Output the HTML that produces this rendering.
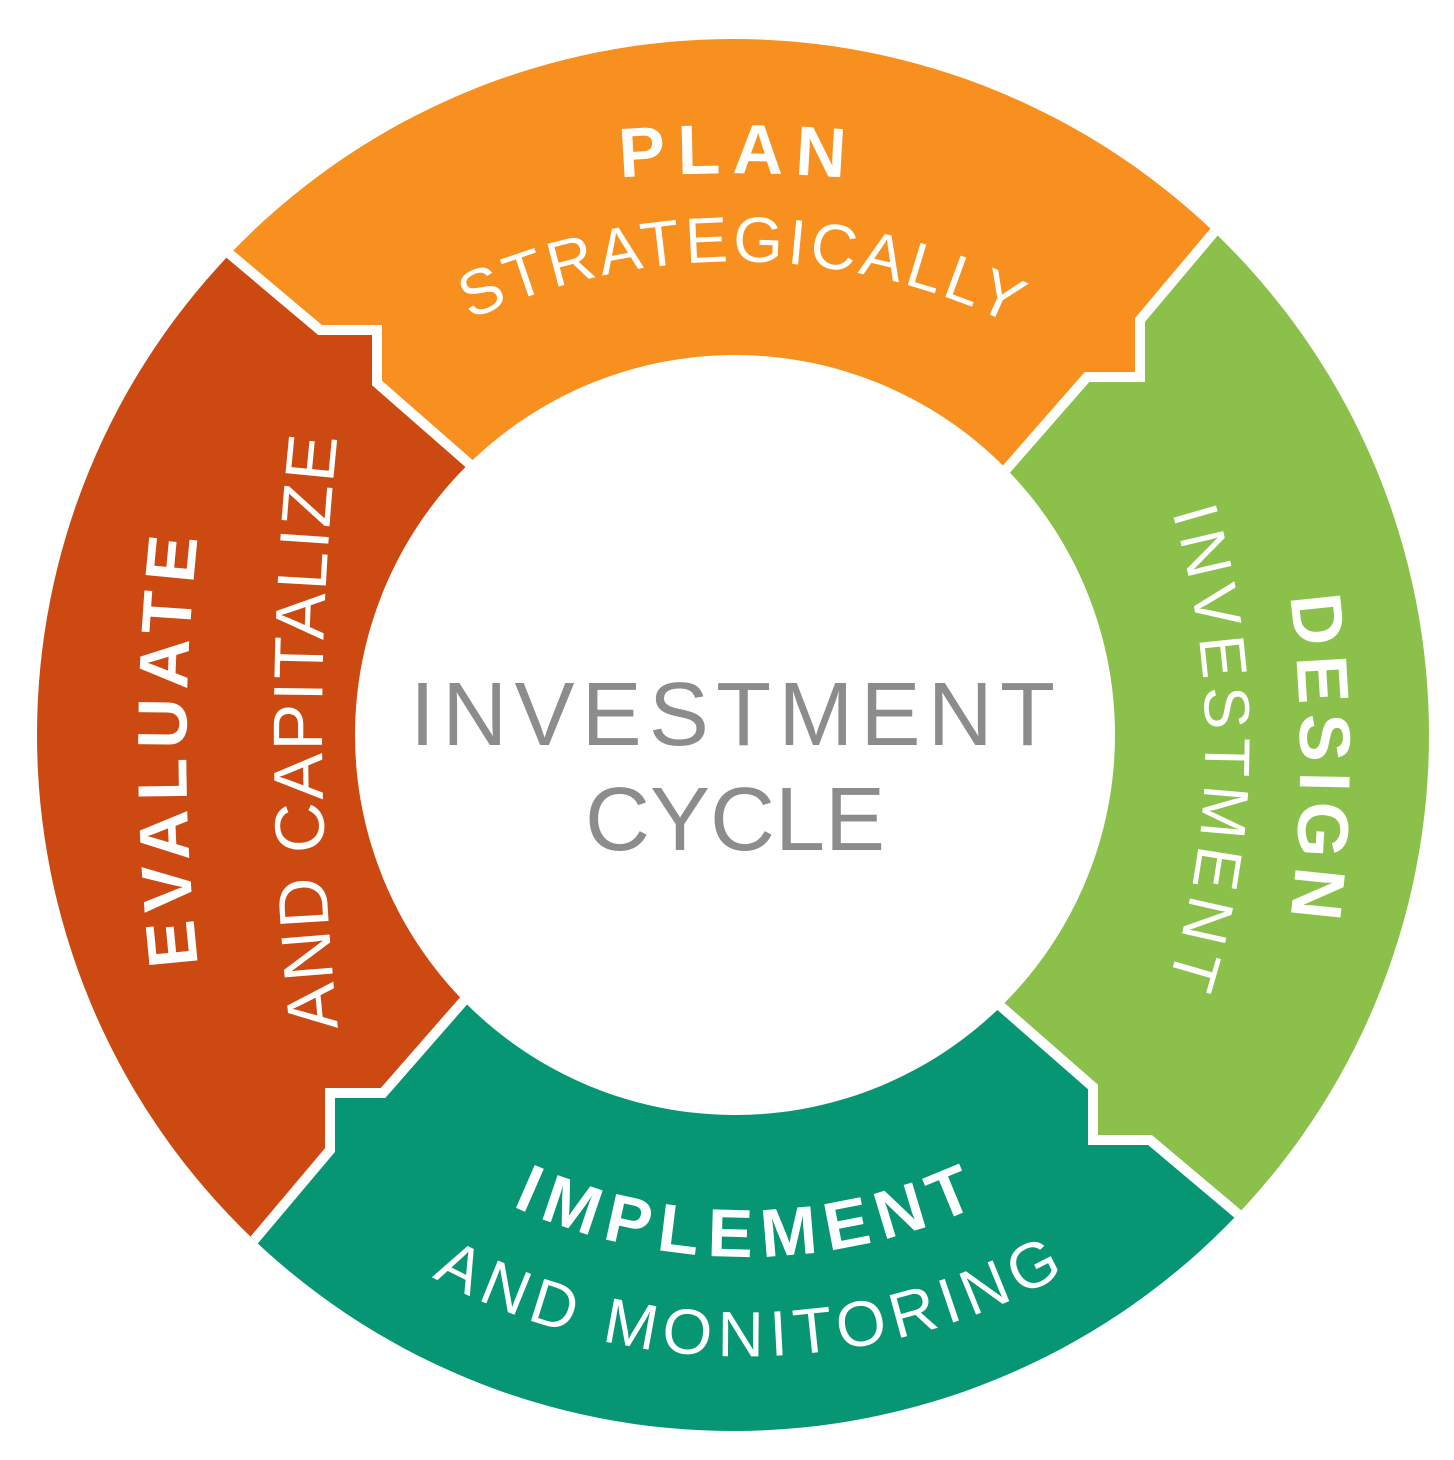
<!DOCTYPE html>
<html><head><meta charset="utf-8"><style>
html,body{margin:0;padding:0;background:#fff;width:1454px;height:1460px;overflow:hidden;}
svg{display:block;}
text{font-family:"Liberation Sans",sans-serif;fill:#fff;}
</style></head><body>
<svg width="1454" height="1460" viewBox="0 0 1454 1460" xmlns="http://www.w3.org/2000/svg">
<defs>
<clipPath id="ring"><circle cx="733" cy="735" r="696"/></clipPath>
<path id="pPlan" d="M 615 178 A 1500 1500 0 0 1 850 178"/>
<path id="pStrat" d="M 470 320 A 634 634 0 0 1 1002 320"/>
<path id="pDesign" d="M 1290 596 A 1300 1300 0 0 1 1290 920"/>
<path id="pInv" d="M 1172 512 A 800 800 0 0 1 1165 992"/>
<path id="pEval" d="M 198 965 A 2000 2000 0 0 1 198 535"/>
<path id="pCap" d="M 338 1028 A 2800 2800 0 0 1 338 432"/>
<path id="pImpl" d="M 512 1206 A 560 560 0 0 0 978 1206"/>
<path id="pMon" d="M 432 1277 A 657 657 0 0 0 1058 1277"/>
</defs>
<g clip-path="url(#ring)">
<polygon fill="#f7901e" points="735,735 473,467 377,383 377,330 320,330 225,250 0,61 0,0 1410,0 1220,225 1140,320 1140,377 1087,377 1003,473"/>
<polygon fill="#8bc04a" points="735,735 1003,473 1087,377 1140,377 1140,320 1220,225 1410,0 1454,0 1454,1396 1245,1220 1150,1140 1093,1140 1093,1087 997,1003"/>
<polygon fill="#079674" points="735,735 997,1003 1093,1087 1093,1140 1150,1140 1245,1220 1454,1396 1454,1460 69,1460 250,1245 330,1150 330,1093 383,1093 467,997"/>
<polygon fill="#cc4912" points="735,735 467,997 383,1093 330,1093 330,1150 250,1245 69,1460 0,1460 0,61 225,250 320,330 377,330 377,383 473,467"/>
<g fill="none" stroke="#fff" stroke-width="10" stroke-linejoin="miter">
<polyline points="473,467 377,383 377,330 320,330 225,250 0,61"/>
<polyline points="1003,473 1087,377 1140,377 1140,320 1220,225 1410,0"/>
<polyline points="997,1003 1093,1087 1093,1140 1150,1140 1245,1220 1454,1396"/>
<polyline points="467,997 383,1093 330,1093 330,1150 250,1245 69,1460"/>
</g>
</g>
<circle cx="735" cy="735" r="380" fill="#fff"/>

<text font-size="70" font-weight="bold"><textPath href="#pPlan" textLength="225" lengthAdjust="spacing" startOffset="5">PLAN</textPath></text>
<text font-size="64"><textPath href="#pStrat" textLength="560" lengthAdjust="spacing">STRATEGICALLY</textPath></text>
<text font-size="72" font-weight="bold"><textPath href="#pDesign" textLength="322" lengthAdjust="spacing">DESIGN</textPath></text>
<text font-size="64"><textPath href="#pInv" textLength="478" lengthAdjust="spacing">INVESTMENT</textPath></text>
<text font-size="70" font-weight="bold"><textPath href="#pEval" textLength="428" lengthAdjust="spacing">EVALUATE</textPath></text>
<text font-size="70"><textPath href="#pCap" textLength="592" lengthAdjust="spacing">AND CAPITALIZE</textPath></text>
<text font-size="68" font-weight="bold"><textPath href="#pImpl" textLength="480" lengthAdjust="spacing">IMPLEMENT</textPath></text>
<text font-size="64"><textPath href="#pMon" textLength="660" lengthAdjust="spacing">AND MONITORING</textPath></text>

<text x="410" y="745" font-size="90" style="fill:#8c8c8c" textLength="645" lengthAdjust="spacing">INVESTMENT</text>
<text x="585" y="850" font-size="90" style="fill:#8c8c8c" textLength="300" lengthAdjust="spacing">CYCLE</text>
</svg>
</body></html>
